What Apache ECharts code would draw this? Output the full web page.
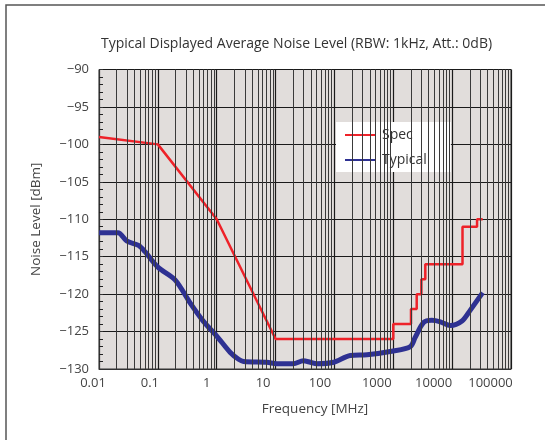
<!DOCTYPE html>
<html><head><meta charset="utf-8">
<script src="https://cdn.jsdelivr.net/npm/echarts@6/dist/echarts.min.js"></script>
<style>html,body{margin:0;padding:0;background:#fff}#c{width:545px;height:440px}</style>
</head><body><div id="c"></div>
<script>
// Frequency [MHz] / level [dBm]
var specFreq = [0.01, 0.1, 1, 10, 1000, 1000, 2000, 2000, 2500, 2500, 3000, 3000, 3500, 3500, 15000, 15000, 26500, 26500, 33000];
var specLevel = [-99, -100, -110, -126, -126, -124, -124, -122, -122, -120, -120, -118, -118, -116, -116, -111, -111, -110, -110];

var typFreq = [0.01, 0.021, 0.0295, 0.047, 0.06, 0.1, 0.196, 0.355, 0.59, 1, 1.7, 2.35, 2.85, 7.1, 10.5, 20, 29.6, 39, 50, 97, 186, 357, 1000, 1950, 2350, 3270, 4540, 6300, 9300, 14700, 20500, 33000];
var typLevel = [-111.8, -111.8, -112.9, -113.5, -114.3, -116.4, -118.1, -121.2, -123.6, -125.6, -127.8, -128.7, -129.0, -129.1, -129.3, -129.3, -128.9, -129.1, -129.3, -129.1, -128.2, -128.1, -127.6, -127.0, -125.8, -123.8, -123.5, -123.7, -124.2, -123.6, -122.1, -119.8];

var xTickLabels = ['0.01', '0.1', '1', '10', '100', '1000', '10000', '100000'];
var yMin = -130, yMax = -90, yStep = 5;
var decadeStart = -2, decadeEnd = 5;

function pairs(xs, ys) { return xs.map(function (x, i) { return [x, ys[i]]; }); }

// minor vertical grid lines at 2..9 x 10^d
var minorLines = [];
for (var d = decadeStart; d < decadeEnd; d++) {
  for (var k = 2; k <= 9; k++) minorLines.push({ xAxis: k * Math.pow(10, d) });
}

var rich = {};
xTickLabels.forEach(function (t, i) {
  rich['l' + i] = { fontSize: 13, color: '#444', fontFamily: 'Open Sans', padding: [0, Math.round(2 * (6 + i * 2.1)), 0, 0] };
});

var chart = echarts.init(document.getElementById('c'), null, { renderer: 'canvas' });
chart.setOption({
  animation: false,
  textStyle: { fontFamily: 'Open Sans' },
  graphic: [{
    type: 'rect', shape: { x: 6, y: 5, width: 600, height: 500 },
    style: { fill: 'none', stroke: '#555', lineWidth: 1.5 }, z: 100
  }],
  title: {
    text: 'Typical Displayed Average Noise Level (RBW: 1kHz, Att.: 0dB)',
    left: 96, top: 32,
    textStyle: { fontSize: 14, fontWeight: 'normal', color: '#333', fontFamily: 'Open Sans' }
  },
  legend: {
    orient: 'vertical', left: 336, top: 122,
    backgroundColor: '#fff', padding: [6, 24, 5, 8],
    itemWidth: 30, itemHeight: 12, itemGap: 11,
    itemStyle: { opacity: 0 },
    textStyle: { fontSize: 14, color: '#333', fontFamily: 'Open Sans', padding: [0, 0, 0, 2] },
    data: ['Spec', 'Typical']
  },
  grid: {
    left: 99, right: 34, top: 69.5, bottom: 71,
    show: true, backgroundColor: '#e1dddb', borderColor: '#333', borderWidth: 1
  },
  xAxis: {
    type: 'log', logBase: 10, min: 0.01, max: 100000,
    name: 'Frequency [MHz]', nameLocation: 'middle', nameGap: 33,
    nameTextStyle: { fontSize: 13.5, color: '#444', fontFamily: 'Open Sans', padding: [0, 0, 0, 20] },
    axisLine: { show: true, lineStyle: { color: '#333', width: 1 } },
    axisTick: { show: false },
    splitLine: { show: true, lineStyle: { color: '#1a1a1a', width: 1.2 } },
    axisLabel: {
      margin: 8, rich: rich,
      formatter: function (v) {
        var s = String(+v.toPrecision(6));
        var i = xTickLabels.indexOf(s);
        return i >= 0 ? '{l' + i + '|' + s + '}' : s;
      }
    }
  },
  yAxis: {
    type: 'value', min: yMin, max: yMax, interval: yStep,
    name: 'Noise Level [dBm]', nameLocation: 'middle', nameGap: 56,
    nameTextStyle: { fontSize: 13.5, color: '#444', fontFamily: 'Open Sans' },
    axisLine: { show: true, lineStyle: { color: '#333', width: 1 } },
    axisTick: { show: true, inside: true, length: 4, lineStyle: { color: '#333' } },
    minorTick: { show: true, splitNumber: 5, length: 4, lineStyle: { color: '#222', width: 1 } },
    splitLine: { show: true, lineStyle: { color: '#1a1a1a', width: 1.2 } },
    axisLabel: {
      fontSize: 13, color: '#444', margin: 10, fontFamily: 'Open Sans',
      formatter: function (v) { return String(v).replace('-', '\u2212'); }
    }
  },
  series: [
    {
      name: 'grid', type: 'line', data: [], silent: true,
      markLine: {
        silent: true, symbol: 'none', label: { show: false },
        lineStyle: { color: '#3a3a3a', width: 1, type: 'solid' },
        data: minorLines, animation: false
      }, z: 1
    },
    {
      name: 'Spec', type: 'line', data: pairs(specFreq, specLevel),
      symbol: 'none', lineStyle: { color: '#ee2229', width: 2.5 }, itemStyle: { color: '#ee2229' }, z: 3
    },
    {
      name: 'Typical', type: 'line', data: pairs(typFreq, typLevel), smooth: 0.3,
      symbol: 'none', lineStyle: { color: '#2e3192', width: 5 }, itemStyle: { color: '#2e3192' }, z: 2
    }
  ]
});
</script></body></html>
